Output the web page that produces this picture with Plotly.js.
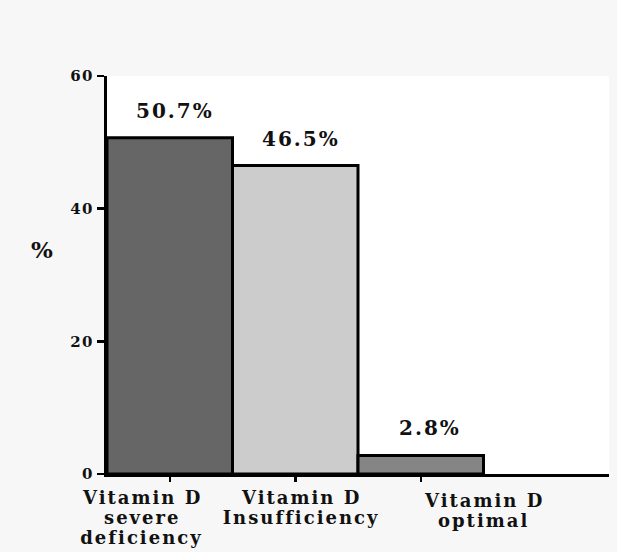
<!DOCTYPE html>
<html>
<head>
<meta charset="utf-8">
<script src="https://cdn.plot.ly/plotly-3.0.1.min.js"></script>
<style>
html,body{margin:0;padding:0;background:#f7f7f7;}
#chart{width:617px;height:552px;}
#chart .ytick text{letter-spacing:1.5px;}
#chart .annotation-text{letter-spacing:2px;}
</style>
</head>
<body>
<div id="chart"></div>
<script>
const categories = ["Vitamin D<br>severe<br>deficiency", "Vitamin D<br>Insufficiency", "Vitamin D<br>optimal"];
const values = [50.7, 46.5, 2.8];
const valueLabels = ["50.7%", "46.5%", "2.8%"];
const barColors = ["#666666", "#cccccc", "#858585"];
const yTicks = [0, 20, 40, 60];

const xIdx = categories.map((c, i) => i);

const trace = {
  type: "bar",
  x: xIdx,
  y: values,
  width: 1,
  marker: {color: barColors, line: {color: "#000", width: 3}},
  hoverinfo: "none"
};

const annotations = values.map((v, i) => ({
  x: i, y: v, xref: "x", yref: "y",
  text: "<b>" + valueLabels[i] + "</b>",
  showarrow: false, yanchor: "bottom", yshift: 13, xshift: [5, 6, 9][i],
  font: {family: "DejaVu Serif", size: 20, color: "#111"}
}));
// category labels (one annotation per line, as in the original layout)
const labelShiftX = [-28, 6, 63];
const labelShiftY = [0, 0, 3];
categories.forEach((c, i) => {
  c.split("<br>").forEach((line, j) => {
    annotations.push({
      x: i, y: 0, xref: "x", yref: "y",
      text: "<b>" + line + "</b>",
      showarrow: false, yanchor: "middle",
      xshift: labelShiftX[i], yshift: -(23 + 20 * j + labelShiftY[i]),
      font: {family: "DejaVu Serif", size: 18, color: "#111"}
    });
  });
});
annotations.push({
  xref: "paper", yref: "paper", x: -0.153, y: 0.563,
  text: "<b>%</b>", showarrow: false,
  font: {family: "DejaVu Serif", size: 23, color: "#111"}
});

const layout = {
  width: 617, height: 552,
  margin: {l: 107, r: 8, t: 76, b: 78},
  paper_bgcolor: "#f7f7f7",
  plot_bgcolor: "#ffffff",
  showlegend: false,
  bargap: 0,
  xaxis: {
    range: [-0.5, 3.5],
    tickvals: xIdx,
    showticklabels: false,
    ticks: "outside", ticklen: 5, tickwidth: 2.5, tickcolor: "#000",
    showline: true, linecolor: "#000", linewidth: 2.5,
    showgrid: false, zeroline: false,
    fixedrange: true
  },
  yaxis: {
    range: [0, 60],
    tickvals: yTicks,
    ticktext: yTicks.map(t => "<b>" + t + "</b>"),
    ticks: "outside", ticklen: 7, tickwidth: 2.5, tickcolor: "#000",
    showline: true, linecolor: "#000", linewidth: 3,
    showgrid: false, zeroline: false,
    tickfont: {family: "DejaVu Serif", size: 15, color: "#111"},
    fixedrange: true
  },
  annotations: annotations
};

Plotly.newPlot("chart", [trace], layout, {displayModeBar: false, staticPlot: true});
</script>
</body>
</html>
